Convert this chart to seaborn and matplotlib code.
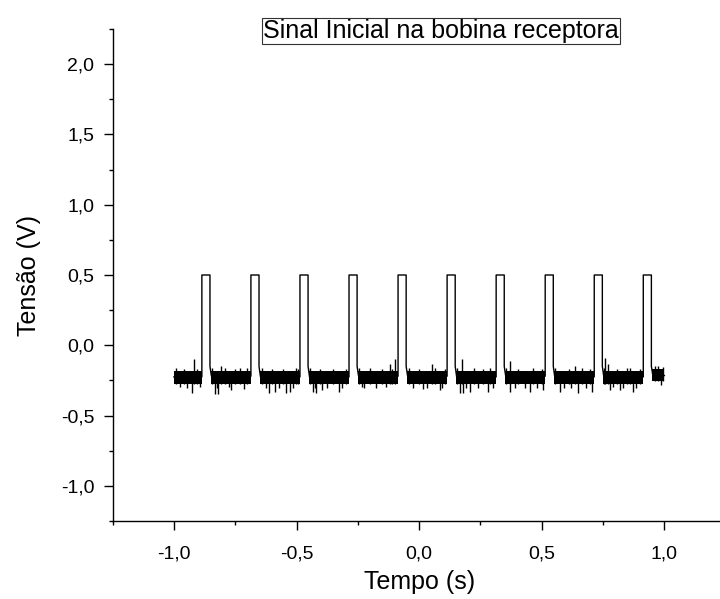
import numpy as np
import pandas as pd
import matplotlib
matplotlib.use("Agg")
import matplotlib.pyplot as plt
import seaborn as sns
from matplotlib.ticker import MultipleLocator, FuncFormatter

# ---- data ----
t_start, t_end = -1.0, 1.0
pulse_starts = [-0.886, -0.686, -0.486, -0.286, -0.086, 0.114, 0.314, 0.514, 0.714, 0.914]
pulse_width = 0.033
pulse_top = 0.5
fall_tail = -0.15          # level reached by the falling edge before settling
baseline_level = [-0.225, -0.220, -0.225, -0.225, -0.220, -0.220, -0.225, -0.220, -0.225, -0.225, -0.215]
band_upper = [-0.185, -0.180, -0.185, -0.185, -0.180, -0.180, -0.185, -0.180, -0.185, -0.180, -0.170]
band_lower = [-0.272, -0.272, -0.276, -0.276, -0.272, -0.272, -0.276, -0.272, -0.276, -0.276, -0.255]
# large spikes
spike_x = [-0.926, -0.917, -0.834, -0.820, -0.807, -0.766, -0.732, -0.612, -0.589, -0.541,
           -0.528, -0.501, -0.433, -0.419, -0.396, -0.328, -0.235, -0.120, -0.099,
           0.016, 0.053, 0.084, 0.166, 0.173, 0.180, 0.207, 0.282, 0.289, 0.370, 0.372,
           0.452, 0.506, 0.574, 0.636, 0.649, 0.703, 0.758, 0.772, 0.778, 0.819, 0.846,
           0.874, 0.976]
spike_y = [-0.34, -0.10, -0.35, -0.35, -0.15, -0.32, -0.16, -0.34, -0.33, -0.34,
           -0.33, -0.16, -0.33, -0.34, -0.32, -0.33, -0.30, -0.13, -0.10,
           -0.31, -0.13, -0.32, -0.34, -0.10, -0.34, -0.33, -0.33, -0.16, -0.11, -0.33,
           -0.33, -0.32, -0.33, -0.15, -0.34, -0.33, -0.09, -0.13, -0.32, -0.32, -0.16,
           -0.33, -0.15]
# small fuzz along the band edges
fuzz_x = [-0.990, -0.975, -0.960, -0.945, -0.905, -0.895,
          -0.845, -0.826, -0.790, -0.775, -0.750, -0.715, -0.700,
          -0.640, -0.625, -0.600, -0.570, -0.555, -0.515, -0.495,
          -0.445, -0.425, -0.405, -0.375, -0.350, -0.315, -0.300,
          -0.245, -0.225, -0.200, -0.175, -0.150, -0.135, -0.110,
          -0.040, -0.025, 0.000, 0.030, 0.065, 0.095, 0.105,
          0.155, 0.190, 0.225, 0.240, 0.260, 0.300,
          0.355, 0.390, 0.405, 0.430, 0.465, 0.480, 0.500,
          0.555, 0.590, 0.610, 0.620, 0.665, 0.680, 0.695,
          0.755, 0.790, 0.805, 0.830, 0.860, 0.885, 0.900,
          0.960, 0.985, 0.995]
fuzz_y = [-0.165, -0.300, -0.168, -0.305, -0.170, -0.300,
          -0.160, -0.305, -0.165, -0.300, -0.168, -0.308, -0.165,
          -0.162, -0.303, -0.168, -0.305, -0.166, -0.302, -0.168,
          -0.164, -0.305, -0.168, -0.301, -0.166, -0.305, -0.168,
          -0.160, -0.303, -0.165, -0.305, -0.168, -0.300, -0.166,
          -0.158, -0.301, -0.166, -0.305, -0.165, -0.303, -0.166,
          -0.158, -0.305, -0.165, -0.302, -0.166, -0.305,
          -0.160, -0.301, -0.166, -0.305, -0.165, -0.303, -0.166,
          -0.158, -0.305, -0.166, -0.301, -0.165, -0.305, -0.166,
          -0.158, -0.300, -0.166, -0.305, -0.165, -0.303, -0.166,
          -0.150, -0.285, -0.155]

title = "Sinal Inicial na bobina receptora"
xlabel = "Tempo (s)"
ylabel = "Tensão (V)"

# ---- build the trace skeleton from the arrays ----
seg_bounds = [t_start]
for s in pulse_starts:
    seg_bounds += [s, s + pulse_width]
seg_bounds.append(t_end)
segments = [(seg_bounds[2 * i], seg_bounds[2 * i + 1]) for i in range(len(pulse_starts) + 1)]

xs, ys = [], []
for i, (a, b) in enumerate(segments):
    if i > 0:
        xs += [a, a + 0.006]
        ys += [fall_tail, baseline_level[i]]
    else:
        xs += [a]
        ys += [baseline_level[i]]
    xs += [b]
    ys += [baseline_level[i]]
    if i < len(pulse_starts):
        xs += [b, b + pulse_width]
        ys += [pulse_top, pulse_top]
trace = pd.DataFrame({"t": xs, "v": ys})

plt.rcParams['font.family'] = ['Liberation Sans', 'DejaVu Sans']
fig = plt.figure(figsize=(7.20, 5.99), dpi=100)
ax = fig.add_axes([0.1564, 0.1302, 0.8515, 0.8214])

sns.lineplot(data=trace, x="t", y="v", estimator=None, sort=False,
             color="black", linewidth=1.0, ax=ax)


def seg_of(x):
    return next(k for k, (a, b) in enumerate(segments) if a - 1e-9 <= x <= b + 1e-9)


for i, (a, b) in enumerate(segments):
    a0 = a + 0.004 if i > 0 else a
    ax.fill_between([a0, b], [band_lower[i]] * 2, [band_upper[i]] * 2,
                    color="black", linewidth=0)
for sx, sy in zip(fuzz_x, fuzz_y):
    i = seg_of(sx)
    ax.vlines(sx, min(sy, band_lower[i]), max(sy, band_upper[i]), color="black", linewidth=1.0)
for sx, sy in zip(spike_x, spike_y):
    i = seg_of(sx)
    ax.vlines(sx, min(sy, band_lower[i]), max(sy, band_upper[i]), color="black", linewidth=1.0)

ax.set_xlim(-1.25, 1.25)
ax.set_ylim(-1.25, 2.25)
ax.xaxis.set_major_locator(MultipleLocator(0.5))
ax.xaxis.set_minor_locator(MultipleLocator(0.25))
ax.yaxis.set_major_locator(MultipleLocator(0.5))
ax.yaxis.set_minor_locator(MultipleLocator(0.25))
fmt = FuncFormatter(lambda v, p: f"{v:.1f}".replace(".", ",").replace("-0,0", "0,0"))
ax.xaxis.set_major_formatter(fmt)
ax.yaxis.set_major_formatter(fmt)
for side in ["top", "right"]:
    ax.spines[side].set_visible(False)
for side in ["left", "bottom"]:
    ax.spines[side].set_linewidth(1.0)
ax.tick_params(which="major", direction="out", length=6.3, width=1.0, labelsize=14)
ax.tick_params(axis="x", which="major", pad=11)
ax.tick_params(axis="y", which="major", pad=7)
ax.tick_params(which="minor", direction="out", length=3.2, width=1.0)
ax.set_xlabel(xlabel, fontsize=18, labelpad=6)
ax.set_ylabel(ylabel, fontsize=18, labelpad=14)

fig.text(441 / 720, 1 - 31 / 599, title, fontsize=18, ha="center", va="center",
         bbox=dict(boxstyle="square,pad=0.05", facecolor="white", edgecolor="#333333", linewidth=0.8))

fig.savefig("out.png", dpi=100)
